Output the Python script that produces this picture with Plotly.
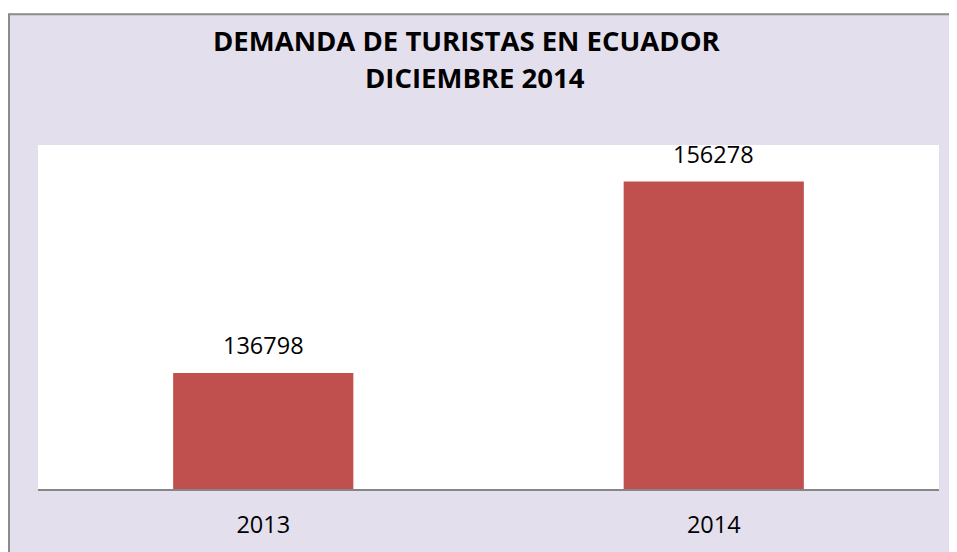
import plotly.graph_objects as go

categories = ["2013", "2014"]
values = [136798, 156278]
title_lines = ["DEMANDA DE TURISTAS EN ECUADOR", "DICIEMBRE 2014"]

# page body has an 8px offset; work in figure coordinates
OFF = 8
W, H = 957 - OFF, 552 - OFF
L, R, T, B = 38 - OFF, 939 - OFF, 145 - OFF, 491 - OFF
pw, ph = R - L, B - T

def px(x):
    return (x - OFF - L) / pw

def py(y):
    return (B - (y - OFF)) / ph

FONT = "Open Sans"

fig = go.Figure(go.Bar(
    x=categories, y=values,
    marker=dict(color="#C0504D", line=dict(width=0)),
    width=0.4, hoverinfo="x+y",
))

shapes = [
    dict(type="rect", xref="paper", yref="paper", x0=px(-20), x1=px(980), y0=py(-20), y1=py(13),
         fillcolor="white", line=dict(width=0), layer="below"),
    dict(type="rect", xref="paper", yref="paper", x0=px(-20), x1=px(8), y0=py(-20), y1=py(580),
         fillcolor="white", line=dict(width=0), layer="below"),
    dict(type="line", xref="paper", yref="paper", x0=px(8), x1=px(980), y0=py(13.5), y1=py(13.5),
         line=dict(color="#8C8C8C", width=2)),
    dict(type="line", xref="paper", yref="paper", x0=px(9), x1=px(9), y0=py(13), y1=py(580),
         line=dict(color="#8C8C8C", width=2)),
]

annotations = [
    dict(text="<b>" + title_lines[0] + "</b>", xref="paper", yref="paper",
         x=px(466.5), y=py(40), xanchor="center", yanchor="middle", showarrow=False,
         font=dict(family=FONT, size=27.5, color="#000000")),
    dict(text="<b>" + title_lines[1] + "</b>", xref="paper", yref="paper",
         x=px(474.5), y=py(77), xanchor="center", yanchor="middle", showarrow=False,
         font=dict(family=FONT, size=27.5, color="#000000")),
]
for i, v in enumerate(values):
    annotations.append(dict(
        x=i, y=v, xref="x", yref="y", text=str(v), showarrow=False,
        xanchor="center", yanchor="middle", yshift=28,
        font=dict(family=FONT, size=23.5, color="#000000"),
    ))

fig.update_layout(
    width=W, height=H,
    margin=dict(l=L, r=W - R, t=T, b=H - B),
    paper_bgcolor="#E4DFEC", plot_bgcolor="#FFFFFF",
    showlegend=False,
    shapes=shapes,
    annotations=annotations,
    xaxis=dict(
        type="category", categoryorder="array", categoryarray=categories,
        range=[-0.5, len(categories) - 0.5],
        showgrid=False, showline=True, linecolor="#868686", linewidth=2,
        ticks="outside", ticklen=14, tickcolor="rgba(0,0,0,0)",
        tickfont=dict(family=FONT, size=23.5, color="#000000"),
    ),
    yaxis=dict(range=[125000, 160000], visible=False, showgrid=False),
)

fig.write_html(
    "out.html",
    post_script="document.documentElement.style.overflow='hidden';document.body.style.overflow='hidden';",
)
